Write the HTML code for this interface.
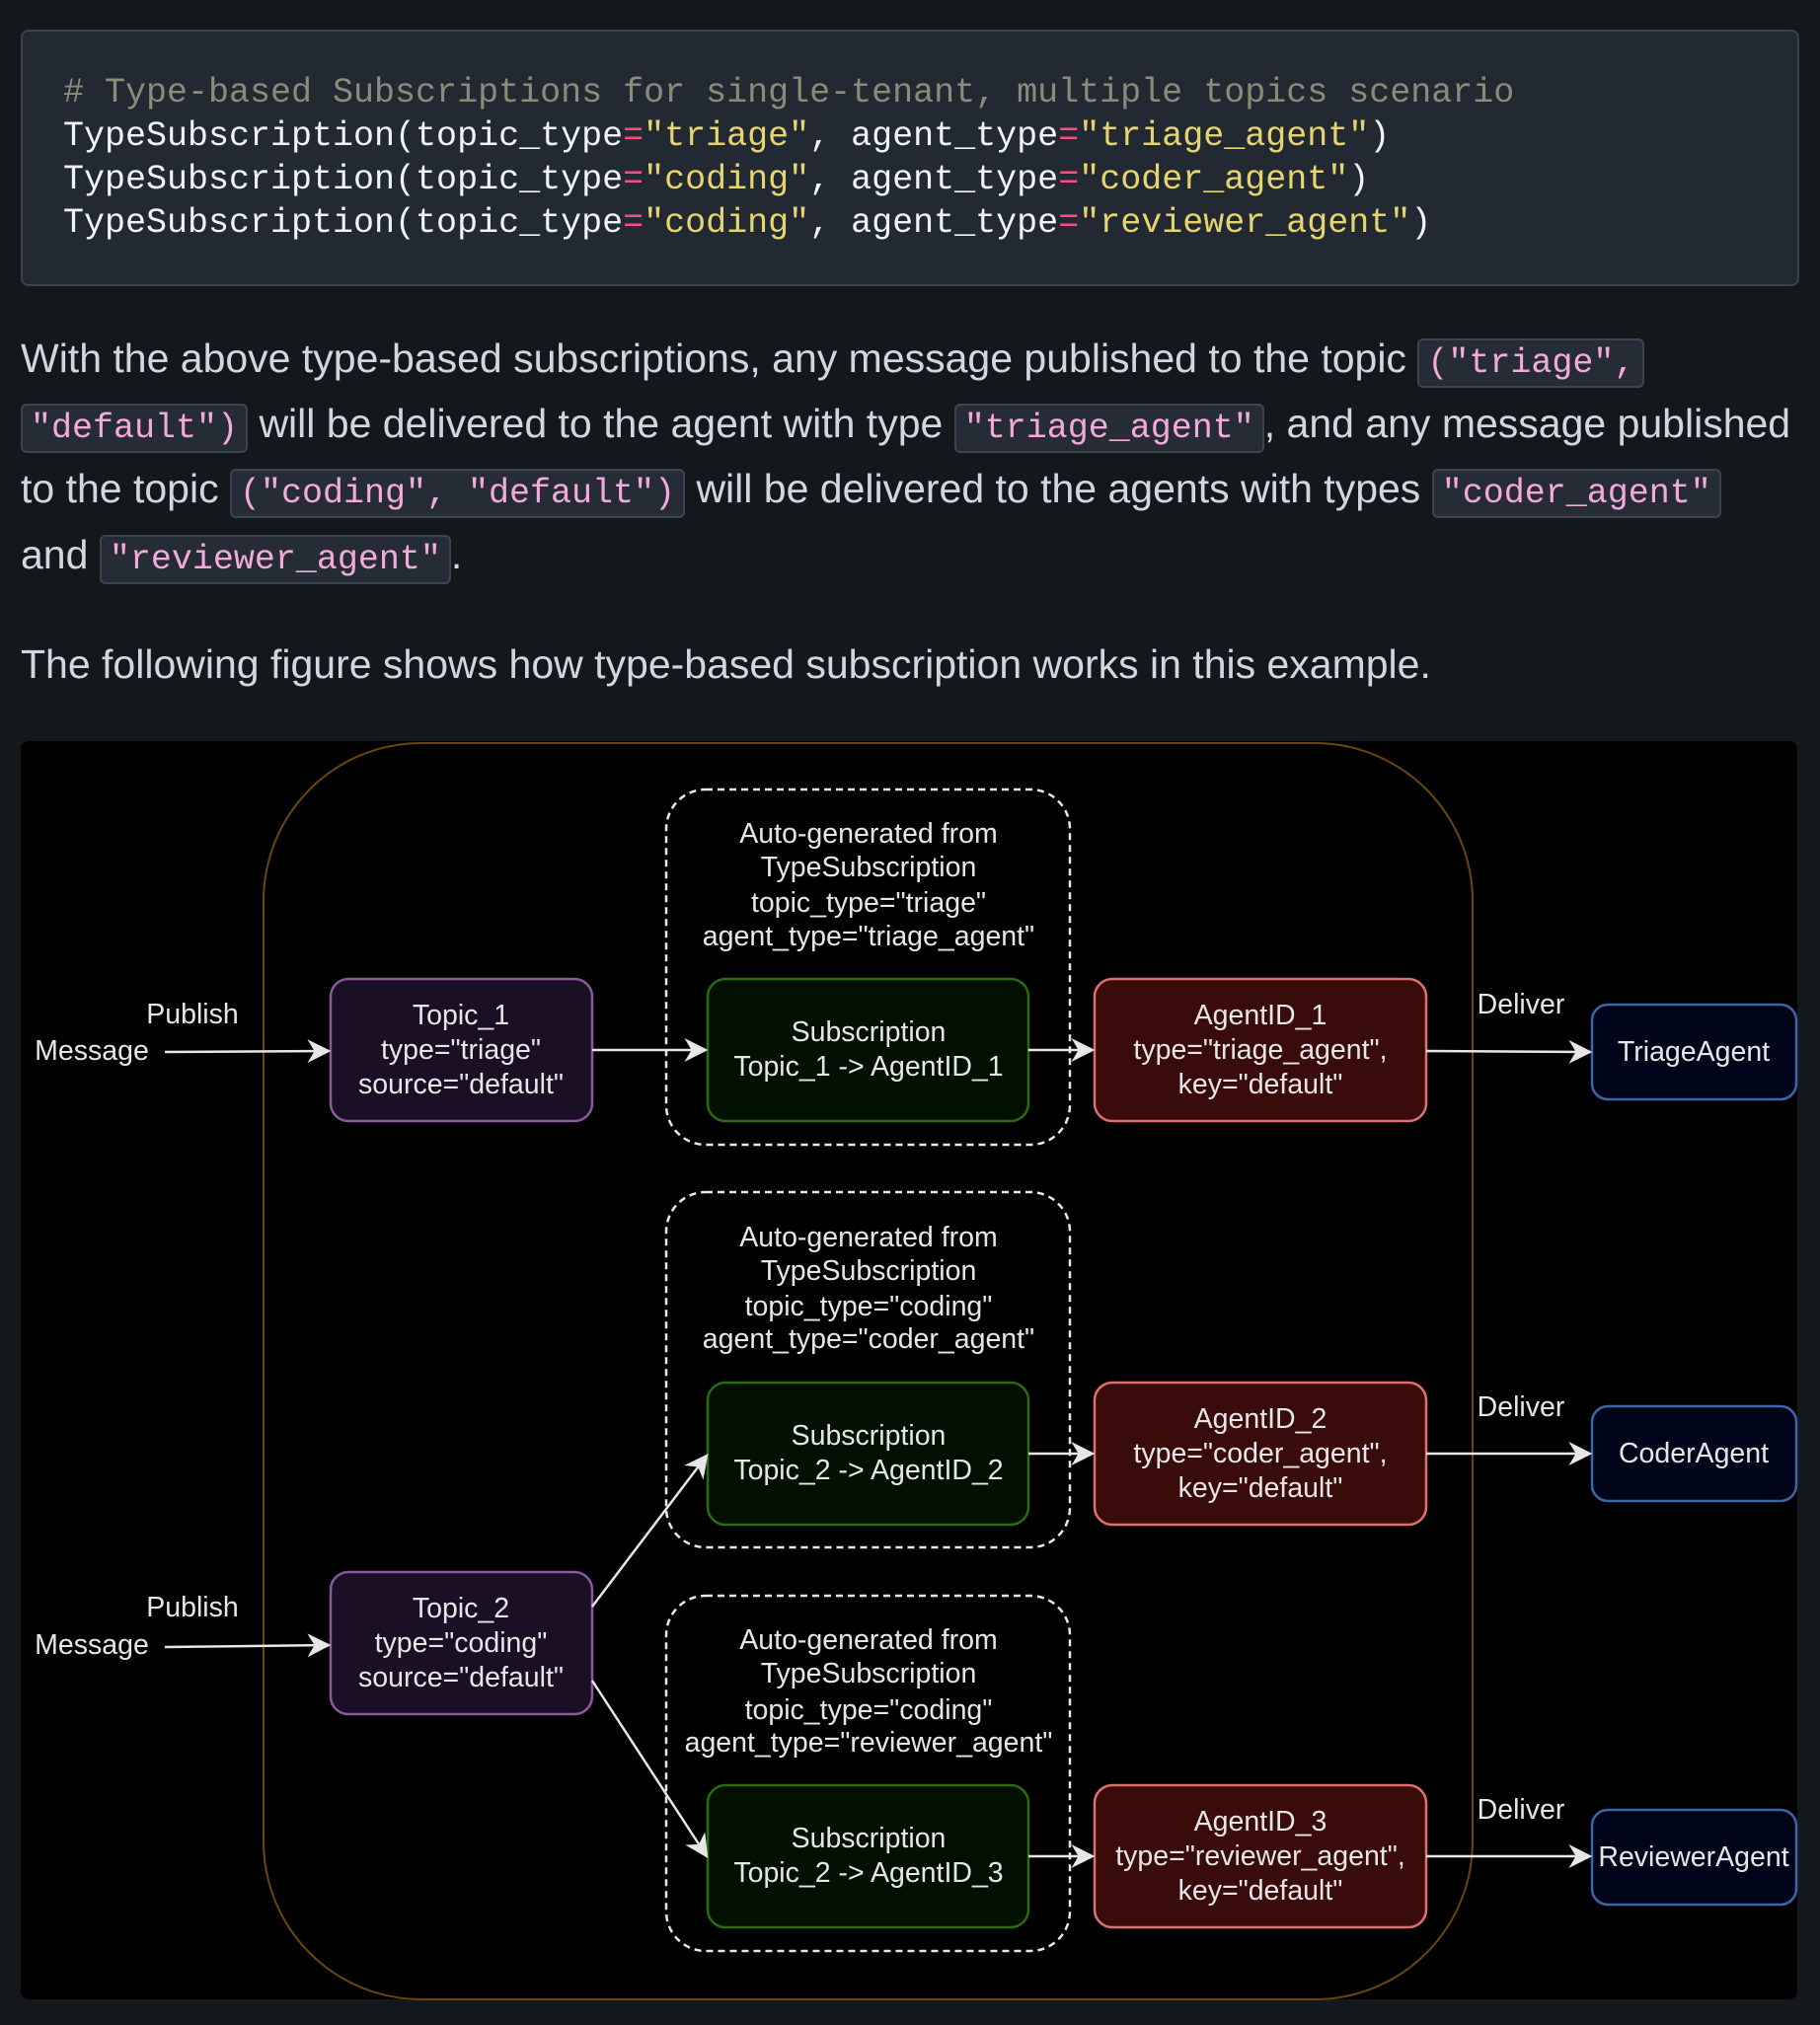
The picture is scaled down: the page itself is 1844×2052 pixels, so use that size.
<!DOCTYPE html>
<html><head><meta charset="utf-8"><style>
html,body{margin:0;padding:0;background:#14171c;width:1844px;height:2052px;overflow:hidden;position:relative;font-family:"Liberation Sans",sans-serif}
.code{position:absolute;left:21px;top:30px;width:1798px;height:256px;background:#232932;border:2px solid #3b4350;border-radius:8px}
.cl{position:absolute;left:41px;font-family:"Liberation Mono",monospace;font-size:35px;color:#f0f3f6;white-space:pre;line-height:44px}
.cm{color:#8b8b7a}.eq{color:#ff4d7e}.s{color:#e6d56f}
.pl{position:absolute;left:21px;font-size:41px;color:#d1d7e0;white-space:pre;line-height:66px}
.ic{font-family:"Liberation Mono",monospace;font-size:35px;color:#f4a9dc;background:#262c36;border:2px solid #3d444d;border-radius:6px;padding:3px 8px}
svg{position:absolute;left:0;top:0}
</style></head><body>
<div class="code">
<div class="cl" style="top:40px"><span class="cm"># Type-based Subscriptions for single-tenant, multiple topics scenario</span></div>
<div class="cl" style="top:84px">TypeSubscription(topic_type<span class="eq">=</span><span class="s">"triage"</span>, agent_type<span class="eq">=</span><span class="s">"triage_agent"</span>)</div>
<div class="cl" style="top:128px">TypeSubscription(topic_type<span class="eq">=</span><span class="s">"coding"</span>, agent_type<span class="eq">=</span><span class="s">"coder_agent"</span>)</div>
<div class="cl" style="top:172px">TypeSubscription(topic_type<span class="eq">=</span><span class="s">"coding"</span>, agent_type<span class="eq">=</span><span class="s">"reviewer_agent"</span>)</div>
</div>
<div class="pl" style="top:330px">With the above type-based subscriptions, any message published to the topic <span class="ic">("triage",</span></div>
<div class="pl" style="top:396px"><span class="ic">"default")</span> will be delivered to the agent with type <span class="ic">"triage_agent"</span>, and any message published</div>
<div class="pl" style="top:462px">to the topic <span class="ic">("coding", "default")</span> will be delivered to the agents with types <span class="ic">"coder_agent"</span></div>
<div class="pl" style="top:529px">and <span class="ic">"reviewer_agent"</span>.</div>
<div class="pl" style="top:640px">The following figure shows how type-based subscription works in this example.</div>

<svg width="1844" height="2052" viewBox="0 0 1844 2052" font-family="Liberation Sans, sans-serif">
<defs>
<marker id="b" viewBox="0 0 10 10" refX="9" refY="5" markerWidth="24" markerHeight="24" markerUnits="userSpaceOnUse" orient="auto"><path d="M0,0 L10,5 L0,10 L3,5 Z" fill="#e6e6e6"/></marker></defs>
<rect x="21" y="751" width="1800" height="1275" rx="8" fill="#000"/>
<rect x="267" y="753" width="1225" height="1273" rx="160" fill="none" stroke="#6b4510" stroke-width="2"/>
<g fill="none" stroke="#e8e8e8" stroke-width="2.5" stroke-dasharray="7,5">
<rect x="675" y="800" width="409" height="360" rx="40"/>
<rect x="675" y="1208" width="409" height="360" rx="40"/>
<rect x="675" y="1617" width="409" height="360" rx="40"/>
</g>
<g fill="#e6e6e6" font-size="28.5" text-anchor="middle">
<text x="880" y="854">Auto-generated from</text><text x="880" y="888">TypeSubscription</text><text x="880" y="924">topic_type="triage"</text><text x="880" y="958">agent_type="triage_agent"</text>
<text x="880" y="1263">Auto-generated from</text><text x="880" y="1297">TypeSubscription</text><text x="880" y="1333">topic_type="coding"</text><text x="880" y="1366">agent_type="coder_agent"</text>
<text x="880" y="1671">Auto-generated from</text><text x="880" y="1705">TypeSubscription</text><text x="880" y="1742">topic_type="coding"</text><text x="880" y="1775">agent_type="reviewer_agent"</text>
</g>
<g stroke-width="2.5">
<rect x="717" y="992" width="325" height="144" rx="18" fill="#021002" stroke="#2d6a12"/>
<rect x="717" y="1401" width="325" height="144" rx="18" fill="#021002" stroke="#2d6a12"/>
<rect x="717" y="1809" width="325" height="144" rx="18" fill="#021002" stroke="#2d6a12"/>
<rect x="335" y="992" width="265" height="144" rx="18" fill="#1a0f24" stroke="#8a5a9a"/>
<rect x="335" y="1593" width="265" height="144" rx="18" fill="#1a0f24" stroke="#8a5a9a"/>
<rect x="1109" y="992" width="336" height="144" rx="18" fill="#3a0b0b" stroke="#e07070"/>
<rect x="1109" y="1401" width="336" height="144" rx="18" fill="#3a0b0b" stroke="#e07070"/>
<rect x="1109" y="1809" width="336" height="144" rx="18" fill="#3a0b0b" stroke="#e07070"/>
<rect x="1613" y="1018" width="207" height="96" rx="16" fill="#00051a" stroke="#3d65a8"/>
<rect x="1613" y="1425" width="207" height="96" rx="16" fill="#00051a" stroke="#3d65a8"/>
<rect x="1613" y="1834" width="207" height="96" rx="16" fill="#00051a" stroke="#3d65a8"/>
</g>
<g fill="#e6e6e6" font-size="28.5" text-anchor="middle">
<text x="880" y="1055">Subscription</text><text x="880" y="1090">Topic_1 -&gt; AgentID_1</text>
<text x="880" y="1464">Subscription</text><text x="880" y="1499">Topic_2 -&gt; AgentID_2</text>
<text x="880" y="1872">Subscription</text><text x="880" y="1907">Topic_2 -&gt; AgentID_3</text>
<text x="467" y="1038">Topic_1</text><text x="467" y="1073">type="triage"</text><text x="467" y="1108">source="default"</text>
<text x="467" y="1639">Topic_2</text><text x="467" y="1674">type="coding"</text><text x="467" y="1709">source="default"</text>
<text x="1277" y="1038">AgentID_1</text><text x="1277" y="1073">type="triage_agent",</text><text x="1277" y="1108">key="default"</text>
<text x="1277" y="1447">AgentID_2</text><text x="1277" y="1482">type="coder_agent",</text><text x="1277" y="1517">key="default"</text>
<text x="1277" y="1855">AgentID_3</text><text x="1277" y="1890">type="reviewer_agent",</text><text x="1277" y="1925">key="default"</text>
<text x="1716" y="1075">TriageAgent</text><text x="1716" y="1482">CoderAgent</text><text x="1716" y="1891">ReviewerAgent</text>
<text x="195" y="1037">Publish</text><text x="93" y="1074">Message</text>
<text x="195" y="1638">Publish</text><text x="93" y="1676">Message</text>
<text x="1541" y="1027">Deliver</text><text x="1541" y="1435">Deliver</text><text x="1541" y="1843">Deliver</text>
</g>
<g stroke="#e6e6e6" stroke-width="2.5" fill="none" marker-end="url(#b)">
<line x1="167" y1="1066" x2="333" y2="1065"/>
<line x1="167" y1="1669" x2="333" y2="1667"/>
<line x1="600" y1="1064" x2="715" y2="1064"/>
<line x1="1042" y1="1064" x2="1107" y2="1064"/>
<line x1="1042" y1="1473" x2="1107" y2="1473"/>
<line x1="1042" y1="1881" x2="1107" y2="1881"/>
<line x1="1445" y1="1065" x2="1611" y2="1066"/>
<line x1="1445" y1="1473" x2="1611" y2="1473"/>
<line x1="1445" y1="1881" x2="1611" y2="1881"/>
<line x1="600" y1="1628" x2="716" y2="1475"/>
<line x1="600" y1="1703" x2="716" y2="1881"/>
</g>
</svg>
</body></html>
